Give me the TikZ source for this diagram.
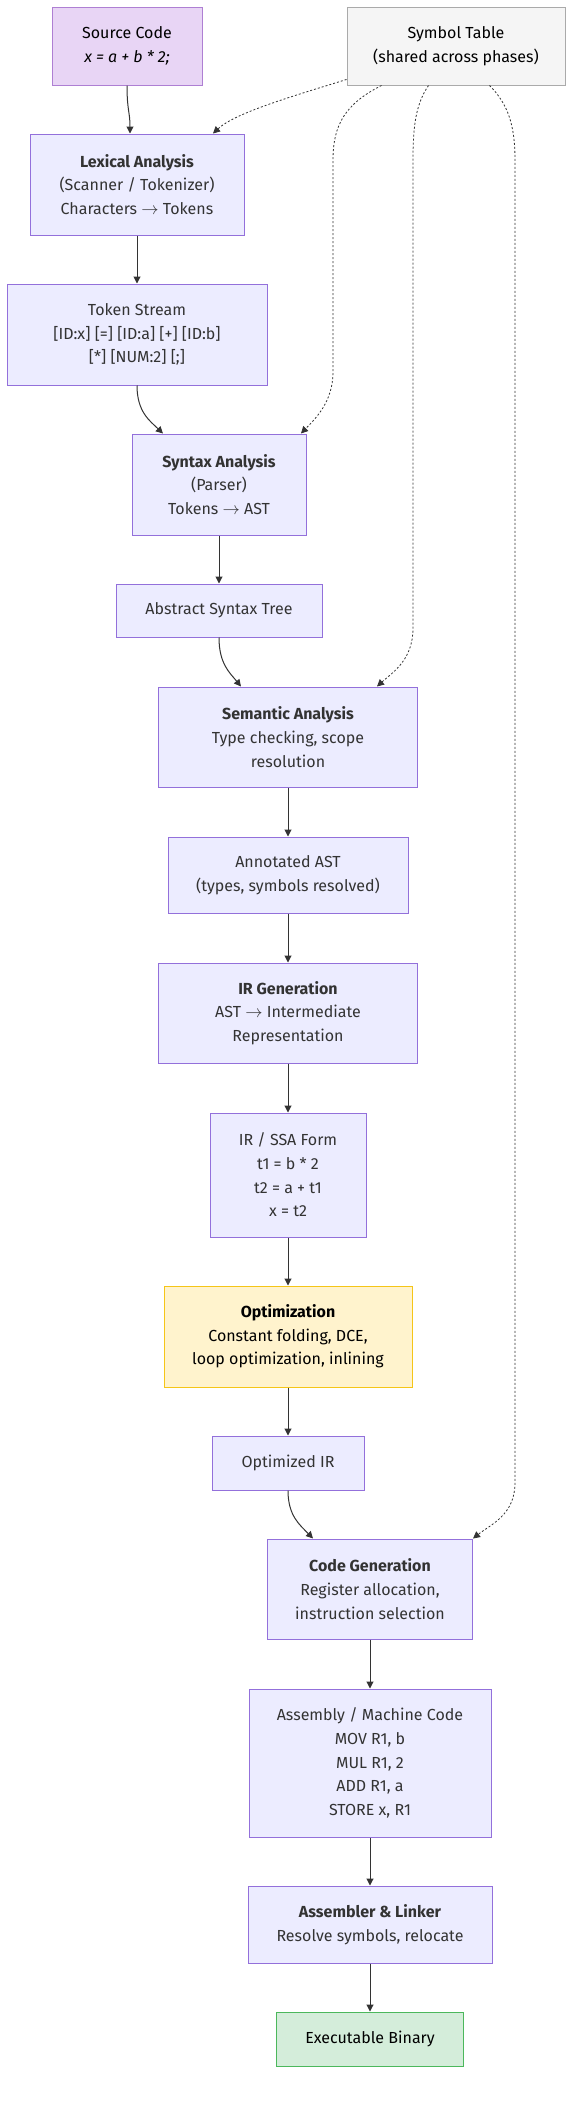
\documentclass[tikz,border=0pt]{standalone}
\usepackage{fontspec}
\setmainfont{Fira Sans}
\usetikzlibrary{arrows.meta,calc}
\definecolor{lavfill}{HTML}{ECECFF}
\definecolor{lavdraw}{HTML}{9370DB}
\definecolor{txt}{HTML}{333333}
\definecolor{srcfill}{HTML}{E8D5F5}
\definecolor{srcdraw}{HTML}{AE7FD3}
\definecolor{symfill}{HTML}{F5F5F5}
\definecolor{symdraw}{HTML}{AAAAAA}
\definecolor{optfill}{HTML}{FFF3CD}
\definecolor{optdraw}{HTML}{F5C518}
\definecolor{exefill}{HTML}{D4EDDA}
\definecolor{exedraw}{HTML}{4CB85C}
\definecolor{edge}{HTML}{333333}
\begin{document}
\begin{tikzpicture}[x=1pt,y=-1pt,
  box/.style={draw=lavdraw, fill=lavfill, line width=1pt, text=txt, align=center,
    inner sep=0pt, font=\fontsize{16}{23.6}\selectfont},
  arr/.style={draw=edge, line width=1pt, -{Triangle[length=7pt,width=7pt]}},
  dotarr/.style={draw=edge, line width=0.8pt, dash pattern=on 2pt off 2pt,
    -{Triangle[length=7pt,width=7pt]}}]
\useasboundingbox[fill=white] (0,0) rectangle (579,2102);

\node[box, draw=srcdraw, fill=srcfill, text=black, minimum width=150pt, minimum height=78pt] (src) at (127,46)
  {Source Code\\\itshape x = a + b * 2;};
\node[box, draw=symdraw, fill=symfill, text=black, minimum width=218pt, minimum height=78pt] (sym) at (456,46)
  {Symbol Table\\(shared across phases)};
\node[box, minimum width=214pt, minimum height=101pt] (lex) at (137,184.5)
  {\textbf{Lexical Analysis}\\(Scanner / Tokenizer)\\Characters $\rightarrow$ Tokens};
\node[box, minimum width=260pt, minimum height=101pt] (tok) at (137,334.5)
  {Token Stream\\{[ID:x] [=] [ID:a] [+] [ID:b]}\\{[*] [NUM:2] [;]}};
\node[box, minimum width=174pt, minimum height=101pt] (syn) at (219,484.5)
  {\textbf{Syntax Analysis}\\(Parser)\\Tokens $\rightarrow$ AST};
\node[box, minimum width=206pt, minimum height=53pt] (ast) at (219,610.5)
  {Abstract Syntax Tree};
\node[box, minimum width=259pt, minimum height=100pt] (sem) at (288,737)
  {\textbf{Semantic Analysis}\\Type checking, scope\\resolution};
\node[box, minimum width=240pt, minimum height=76pt] (ann) at (288,875)
  {Annotated AST\\(types, symbols resolved)};
\node[box, minimum width=259pt, minimum height=100pt] (irg) at (288,1013)
  {\textbf{IR Generation}\\AST $\rightarrow$ Intermediate\\Representation};
\node[box, minimum width=156pt, minimum height=124pt] (ssa) at (288,1175)
  {IR / SSA Form\\t1 = b * 2\\t2 = a + t1\\x = t2};
\node[box, draw=optdraw, fill=optfill, text=black, minimum width=248pt, minimum height=101pt] (opt) at (288,1336.5)
  {\textbf{Optimization}\\Constant folding, DCE,\\loop optimization, inlining};
\node[box, minimum width=152pt, minimum height=54pt] (oir) at (288,1463)
  {Optimized IR};
\node[box, minimum width=205pt, minimum height=100pt] (cg) at (370,1589)
  {\textbf{Code Generation}\\Register allocation,\\instruction selection};
\node[box, minimum width=242pt, minimum height=148pt] (asm) at (370,1763)
  {Assembly / Machine Code\\MOV R1, b\\MUL R1, 2\\ADD R1, a\\STORE x, R1};
\node[box, minimum width=244pt, minimum height=77pt] (lnk) at (370,1924.5)
  {\textbf{Assembler \& Linker}\\Resolve symbols, relocate};
\node[box, draw=exedraw, fill=exefill, text=black, minimum width=187pt, minimum height=54pt] (exe) at (370,2039)
  {Executable Binary};

% solid edges
\draw[arr] (src.south) .. controls (127,110) and (130,112) .. ($(lex.north)+(-7,0)$);
\draw[arr] (lex.south) -- (tok.north);
\draw[arr] (tok.south) .. controls (137,412) and (150,421) .. ($(syn.north)+(-56,0)$);
\draw[arr] (syn.south) -- (ast.north);
\draw[arr] (ast.south) .. controls (219,664) and (230,673) .. ($(sem.north)+(-47,0)$);
\draw[arr] (sem.south) -- (ann.north);
\draw[arr] (ann.south) -- (irg.north);
\draw[arr] (irg.south) -- (ssa.north);
\draw[arr] (ssa.south) -- (opt.north);
\draw[arr] (opt.south) -- (oir.north);
\draw[arr] (oir.south) .. controls (288,1516) and (300,1525) .. ($(cg.north)+(-57,0)$);
\draw[arr] (cg.south) -- (asm.north);
\draw[arr] (asm.south) -- (lnk.north);
\draw[arr] (lnk.south) -- (exe.north);

% dotted edges from the symbol table
\draw[dotarr] ($(sym.south west)+(0,-6)$) .. controls (290,97) and (235,113) .. ($(lex.north)+(76,0)$);
\draw[dotarr] ($(sym.south west)+(35,0)$) .. controls (345,104) and (333,125) .. (333,160)
  -- (333,372) .. controls (333,402) and (315,419) .. ($(syn.north)+(82,0)$);
\draw[dotarr] ($(sym.south west)+(82,0)$) .. controls (416,104) and (413,125) .. (413,160)
  -- (413,628) .. controls (413,660) and (393,672) .. ($(sem.north)+(89,0)$);
\draw[dotarr] ($(sym.south west)+(143,0)$) .. controls (508,104) and (515,125) .. (515,160)
  -- (515,1483) .. controls (515,1515) and (490,1525) .. (cg.north east);
\end{tikzpicture}
\end{document}
